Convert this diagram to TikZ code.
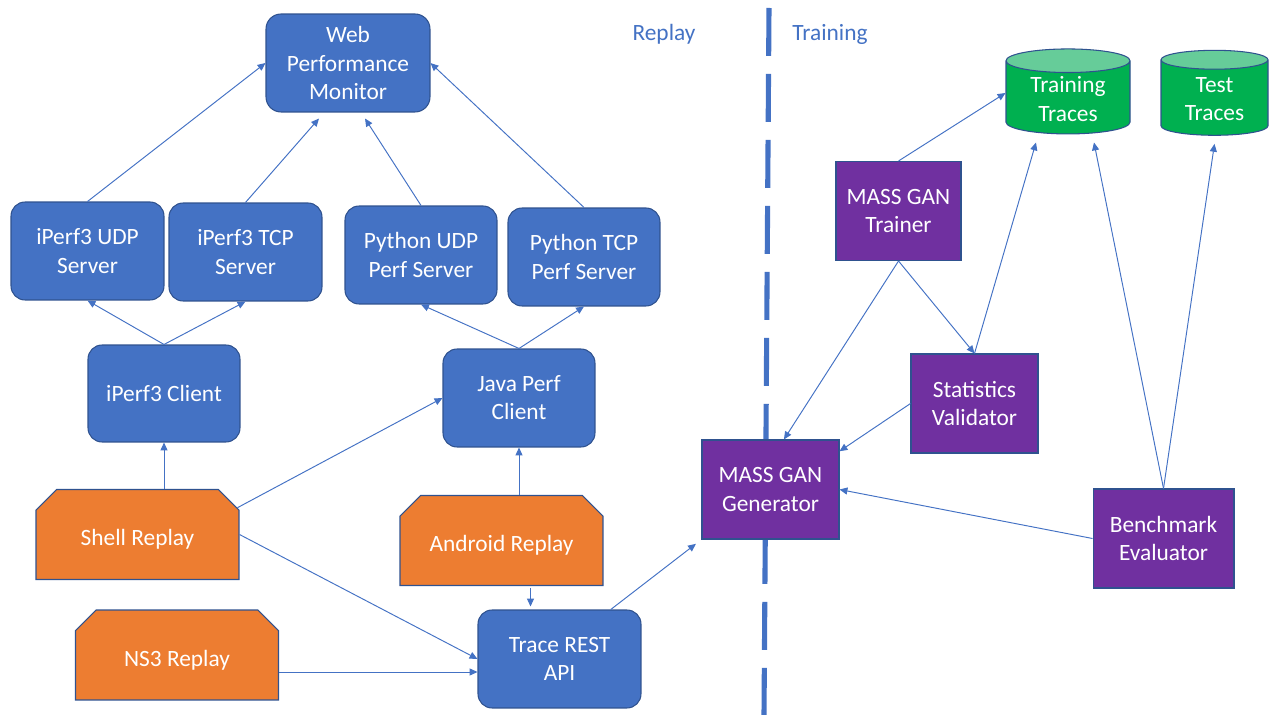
\documentclass[tikz,border=0pt]{standalone}
\usepackage{fontspec}
\setmainfont{Carlito}
\usetikzlibrary{calc, positioning, arrows.meta, shapes.geometric, shapes.misc}

\definecolor{boxblue}{HTML}{4472C4}
\definecolor{edgeblue}{HTML}{2F528F}
\definecolor{replayorange}{HTML}{ED7D31}
\definecolor{ganpurple}{HTML}{7030A0}
\definecolor{dbgreen}{HTML}{00B050}
\definecolor{dbtop}{HTML}{66CC99}

\begin{document}
\begin{tikzpicture}[x=0.02cm, y=-0.02cm,
      font=\fontsize{13.3}{16}\selectfont,
      srv/.style={draw=edgeblue, fill=boxblue, text=white, align=center, line width=0.6pt,
                  rounded corners=0.28cm, minimum width=3.06cm, minimum height=1.96cm, inner sep=2pt},
      replaybox/.style={chamfered rectangle, chamfered rectangle corners={north west, north east},
                  chamfered rectangle xsep=0.3cm, draw=edgeblue, fill=replayorange, text=white,
                  line width=0.6pt, minimum width=4.06cm, minimum height=1.8cm,
                  text height=16pt, text depth=3pt},
      gan/.style={draw=edgeblue, fill=ganpurple, text=white, align=center, line width=0.6pt,
                  minimum height=1.98cm, inner sep=2pt},
      store/.style={cylinder, shape border rotate=90, aspect=0.3, draw=edgeblue,
                  cylinder uses custom fill, cylinder body fill=dbgreen, cylinder end fill=dbtop,
                  text=white, align=center, line width=0.6pt, minimum height=1.7cm, inner sep=1pt},
      phase/.style={text=boxblue},
      link/.style={draw=boxblue, line width=0.55pt, -{Triangle[length=4.5pt, width=4pt]}}
    ]
    \useasboundingbox (0,0) rectangle (1271,715);

    % Trennlinie Replay | Training
    \draw[boxblue, line width=2.9pt, dash pattern=on 0.96cm off 0.36cm] (769,8) -- (764,715);
    \node[phase] (lblreplay)   at (664,34) {Replay};
    \node[phase] (lbltraining) at (830,34) {Training};

    % Replay-Seite
    \node[srv, minimum width=3.28cm, rounded corners=0.3cm] (wpm) at (348,63) {Web\\Performance\\Monitor};
    \node[srv] (udpsrv)  at (87.5,251)  {iPerf3 UDP\\Server};
    \node[srv] (tcpsrv)  at (245.5,252) {iPerf3 TCP\\Server};
    \node[srv, minimum width=3.04cm] (pyudp) at (421,255) {Python UDP\\Perf Server};
    \node[srv, minimum width=3.04cm] (pytcp) at (584,257) {Python TCP\\Perf Server};
    \node[srv, minimum width=3.04cm, minimum height=1.94cm] (iperfcl) at (164,393.5) {iPerf3 Client};
    \node[srv, minimum width=3.04cm] (javacl) at (519,398) {Java Perf\\Client};
    \node[srv, minimum width=3.26cm] (rest) at (559.5,659) {Trace REST\\API};

    \node[replaybox] (shell)   at (137.5,534.5) {Shell Replay};
    \node[replaybox] (android) at (501.5,540.5) {Android Replay};
    \node[replaybox] (ns3)     at (177,655)     {NS3 Replay};

    % Training-Seite
    \node[gan, minimum width=2.74cm] (gen)     at (770.5,489.5) {MASS GAN\\Generator};
    \node[gan, minimum width=2.5cm]  (trainer) at (898.5,211)   {MASS GAN\\Trainer};
    \node[gan, minimum width=2.54cm] (valid)   at (974.5,403.5) {Statistics\\Validator};
    \node[gan, minimum width=2.82cm] (bench)   at (1163.5,538.5) {Benchmark\\Evaluator};
    \node[store, minimum width=2.48cm] (trtraces)  at (1068,99)   {Training\\Traces};
    \node[store, minimum width=2.14cm] (tsttraces) at (1214.5,99) {Test\\Traces};

    % Server -> Monitor
    \draw[link] (udpsrv.north) -- (wpm.west);
    \draw[link] (tcpsrv.north) -- ([shift={(-29,6)}]wpm.south);
    \draw[link] (pyudp.north)  -- ([shift={(17,6)}]wpm.south);
    \draw[link] (pytcp.north)  -- (wpm.east);

    % Clients -> Server
    \draw[link] (iperfcl.north) -- (udpsrv.south);
    \draw[link] (iperfcl.north) -- (tcpsrv.south);
    \draw[link] (javacl.north) -- (pyudp.south);
    \draw[link] (javacl.north) -- (pytcp.south);

    % Replays -> Clients bzw. REST API
    \draw[link] (iperfcl.south |- shell.north) -- (iperfcl.south);
    \draw[link] (shell.15) -- (javacl.west);
    \draw[link] (shell.east) -- (rest.west);
    \draw[link] (javacl.south |- android.north) -- (javacl.south);
    \coordinate (drop) at ($(android.south)!0.5!(rest.north)$);
    \draw[link, shorten <=1.1pt, shorten >=1.7pt] (android.south -| drop) -- (rest.north -| drop);
    \coordinate (ns3out) at ([shift={(0,17)}]ns3.east);
    \draw[link] (ns3out) -- (ns3out -| rest.west);
    \draw[link, shorten >=4pt] (rest.44) -- (gen.south west);

    % Training
    \draw[link] (trainer.north) -- ([shift={(0,-6)}]trtraces.west);
    \draw[link] (trainer.south) -- (gen.75);
    \draw[link] (trainer.south) -- (valid.north);
    \draw[link] (valid.north) -- ([shift={(-32,8)}]trtraces.south);
    \draw[link] (valid.west) -- (gen.29);
    \draw[link] (bench.west) -- (gen.east);
    \draw[link] (bench.north) -- ([shift={(26,8)}]trtraces.south);
    \draw[link] (bench.north) -- ([shift={(0,8)}]tsttraces.south);
\end{tikzpicture}
\end{document}
